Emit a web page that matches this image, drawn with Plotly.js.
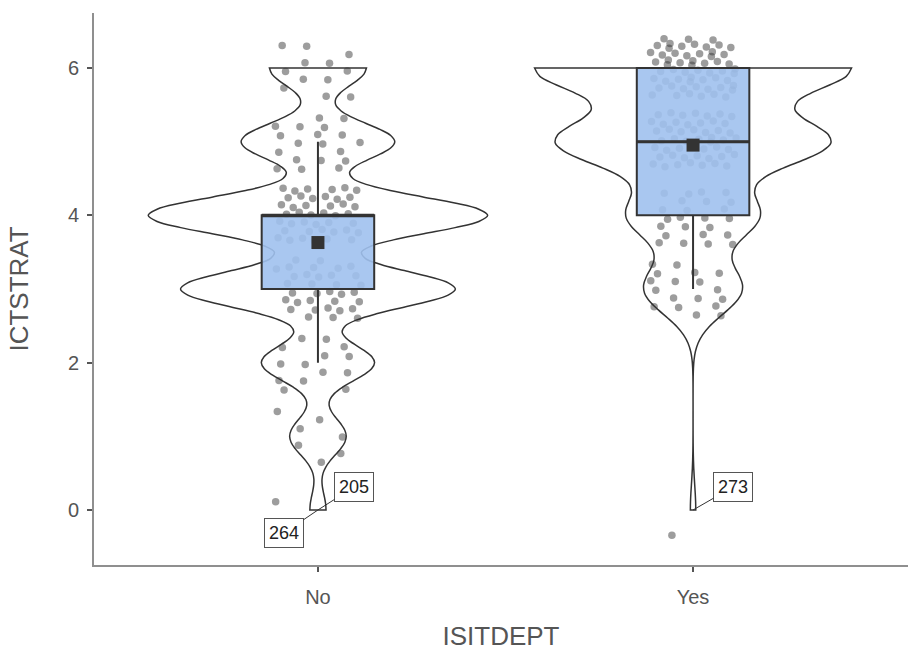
<!DOCTYPE html>
<html>
<head>
<meta charset="utf-8">
<script src="https://cdn.plot.ly/plotly-3.0.1.min.js"></script>
<style>html,body{margin:0;padding:0;background:#fff}#chart{width:908px;height:655px}</style>
</head>
<body>
<div id="chart"></div>
<script>
// ---- data ----
const categories = ['No', 'Yes'];
const levels = [0, 1, 2, 3, 4, 5, 6];
const noCounts  = [2, 7, 14, 34, 42, 19, 12];   // ISITDEPT = No
const yesCounts = [1, 0, 0, 18, 24, 50, 58];    // ISITDEPT = Yes
const noOutlierIds = ['264', '205'];
const noOutlierValues = [0, 0];
const yesOutlierIds = ['273'];
const yesOutlierValues = [0];
const violinBandwidth = [0.253, 0.345];

// ---- helpers ----
function expand(counts) {
  const out = [];
  levels.forEach((v, i) => { for (let k = 0; k < counts[i]; k++) out.push(v); });
  return out;
}
const groups = [expand(noCounts), expand(yesCounts)];
const outIds = [noOutlierIds, yesOutlierIds];
const outVals = [noOutlierValues, yesOutlierValues];
const mean = a => a.reduce((s, v) => s + v, 0) / a.length;
function quantile(a, p) {           // same rule as plotly's 'linear' box quartiles
  const s = a.slice().sort((x, y) => x - y);
  let n = p * s.length - 0.5;
  if (n < 0) return s[0];
  if (n > s.length - 1) return s[s.length - 1];
  const f = n % 1;
  return f * s[Math.ceil(n)] + (1 - f) * s[Math.floor(n)];
}

// deterministic (low-discrepancy) jitter for display, like geom_jitter
const A1 = 0.7548776662466927, A2 = 0.5698402909980532;
function frac(x) { return x - Math.floor(x); }

const lineCol = '#333333';
const FONT = 'Liberation Sans, Arial, sans-serif';
const BOXW = 0.3;
const XR = [-0.597, 1.573], YR = [-0.747, 6.747];
const traces = [];

// violins
groups.forEach((vals, gi) => {
  traces.push({
    type: 'violin', y: vals, x0: gi, name: categories[gi],
    points: false, box: {visible: false}, meanline: {visible: false},
    spanmode: 'hard', bandwidth: violinBandwidth[gi],
    width: gi === 0 ? 0.905 : 0.845, scalemode: 'width',
    line: {color: lineCol, width: 1.5}, fillcolor: 'rgba(0,0,0,0)',
    hoverinfo: 'skip'
  });
});

// jittered points
groups.forEach((vals, gi) => {
  const xs = [], ys = [];
  vals.forEach((v, i) => {
    xs.push(gi + (frac(0.5 + (i + 1) * A1) - 0.5) * 0.23);
    ys.push(v + (frac(0.5 + (i + 1) * A2) - 0.5) * 0.8);
  });
  traces.push({
    type: 'scatter', mode: 'markers', x: xs, y: ys,
    marker: {size: 7.5, color: 'rgba(51,51,51,0.48)', line: {width: 0}},
    hoverinfo: 'skip'
  });
});

// boxes on an overlay subplot so they sit above the points
groups.forEach((vals, gi) => {
  traces.push({
    type: 'box', y: vals, x0: gi, name: categories[gi], xaxis: 'x2', yaxis: 'y2',
    boxpoints: 'outliers', marker: {opacity: 0, size: 1},
    width: BOXW, whiskerwidth: 0,
    fillcolor: 'rgba(160,193,238,0.9)',
    line: {color: lineCol, width: 2},
    hoverinfo: 'skip'
  });
  const med = quantile(vals, 0.5);
  traces.push({
    type: 'scatter', mode: 'lines', xaxis: 'x2', yaxis: 'y2',
    x: [gi - BOXW / 2, gi + BOXW / 2], y: [med, med],
    line: {color: lineCol, width: 3}, hoverinfo: 'skip'
  });
});

// means
traces.push({
  type: 'scatter', mode: 'markers', xaxis: 'x2', yaxis: 'y2',
  x: categories.map((c, i) => i), y: groups.map(mean),
  marker: {symbol: 'square', size: 13, color: lineCol, line: {width: 0}},
  hoverinfo: 'skip'
});

// outlier labels
const annotations = [];
const offsets = [[[-34, 23], [36, -23]], [[40, -23]]];
outIds.forEach((ids, gi) => {
  ids.forEach((id, k) => {
    annotations.push({
      x: gi, y: outVals[gi][k], xref: 'x', yref: 'y', text: id,
      showarrow: true, arrowhead: 0, arrowwidth: 1, arrowcolor: lineCol,
      ax: offsets[gi][k][0], ay: offsets[gi][k][1], standoff: 0,
      bgcolor: '#ffffff', bordercolor: '#555555', borderwidth: 1, borderpad: 4,
      font: {family: FONT, size: 18, color: '#222'}
    });
  });
});

const axisCommon = {
  showline: true, linecolor: '#8f8f8f', linewidth: 2,
  ticks: 'outside', ticklen: 5, tickwidth: 2, tickcolor: '#555',
  showgrid: false, zeroline: false,
  tickfont: {family: FONT, size: 20, color: '#555'}
};

const layout = {
  width: 908, height: 655,
  margin: {l: 94, r: 0, t: 13, b: 90},
  paper_bgcolor: '#fff', plot_bgcolor: '#fff',
  showlegend: false,
  xaxis: Object.assign({}, axisCommon, {
    range: XR, tickvals: categories.map((c, i) => i), ticktext: categories,
    ticklabelstandoff: 8,
    title: {text: 'ISITDEPT', standoff: 20, font: {family: FONT, size: 26, color: '#555'}}
  }),
  yaxis: Object.assign({}, axisCommon, {
    range: YR, tickvals: [0, 2, 4, 6],
    ticklabelstandoff: 4,
    title: {text: 'ICTSTRAT', standoff: 32, font: {family: FONT, size: 26, color: '#555'}}
  }),
  xaxis2: {overlaying: 'x', range: XR, visible: false, showgrid: false, zeroline: false},
  yaxis2: {overlaying: 'y', range: YR, visible: false, showgrid: false, zeroline: false},
  annotations: annotations,
  violinmode: 'overlay', boxmode: 'overlay'
};

Plotly.newPlot('chart', traces, layout, {displayModeBar: false, staticPlot: true});
</script>
</body>
</html>
